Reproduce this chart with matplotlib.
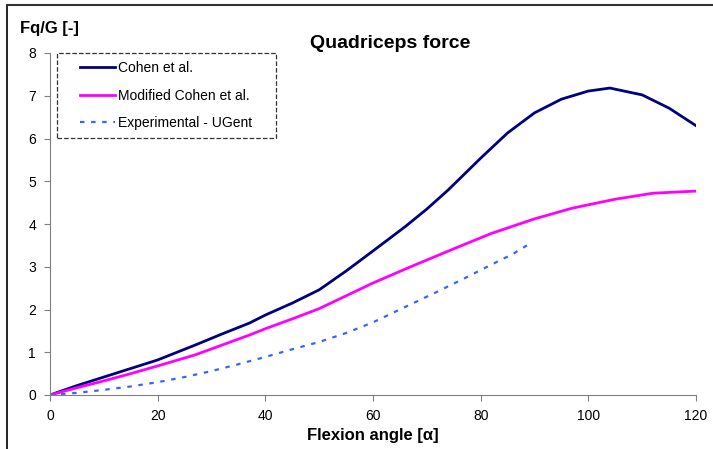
import numpy as np
import matplotlib
matplotlib.use("Agg")
import matplotlib.pyplot as plt
from matplotlib.lines import Line2D
from matplotlib.legend_handler import HandlerLine2D

plt.rcParams["font.family"] = ["Liberation Sans", "DejaVu Sans"]

# Cohen et al.
cohen_x = [0, 5, 10, 15, 20, 27, 32, 37, 40, 45, 50, 55, 60, 66, 70, 74, 80, 85, 90, 95, 100, 104, 110, 115, 120]
cohen_y = [0, 0.22, 0.42, 0.62, 0.82, 1.17, 1.43, 1.68, 1.87, 2.15, 2.46, 2.9, 3.37, 3.94, 4.35, 4.8, 5.54, 6.13, 6.6, 6.92, 7.11, 7.18, 7.02, 6.71, 6.3]

# Modified Cohen et al.
mod_x = [0, 5, 10, 15, 20, 27, 32, 37, 40, 45, 50, 55, 60, 67, 75, 82, 90, 97, 105, 112, 120]
mod_y = [0, 0.17, 0.33, 0.5, 0.68, 0.94, 1.17, 1.4, 1.55, 1.78, 2.02, 2.32, 2.62, 3.0, 3.42, 3.78, 4.12, 4.37, 4.58, 4.72, 4.77]

# Experimental - UGent
exp_x = [0, 5, 10, 15, 20, 25, 30, 35, 40, 45, 50, 55, 60, 67, 72, 77, 82, 86, 89]
exp_y = [0, 0.05, 0.12, 0.2, 0.3, 0.42, 0.56, 0.72, 0.89, 1.07, 1.24, 1.45, 1.7, 2.12, 2.42, 2.73, 3.05, 3.3, 3.53]

xticks = [0, 20, 40, 60, 80, 100, 120]
yticks = [0, 1, 2, 3, 4, 5, 6, 7, 8]


class IndentHandler(HandlerLine2D):
    # legend line drawn only on the right part of the handle box (indented entries)
    def create_artists(self, legend, orig_handle, xdescent, ydescent, width, height, fontsize, trans):
        arts = super().create_artists(legend, orig_handle, xdescent, ydescent, width, height, fontsize, trans)
        for a in arts:
            xd = np.asarray(a.get_xdata(), dtype=float)
            if xd.size > 1:
                a.set_xdata(np.linspace(-xdescent + 0.3 * width, width - xdescent, xd.size))
        return arts


fig = plt.figure(figsize=(7.13, 4.49), dpi=100)
ax = fig.add_axes([50 / 713, 1 - 395 / 449, 646 / 713, 342 / 449])

ax.plot(cohen_x, cohen_y, color="#000080", lw=2.0, label="Cohen et al.")
ax.plot(mod_x, mod_y, color="#ff00ff", lw=2.0, label="Modified Cohen et al.")
ax.plot(exp_x, exp_y, color="#3366ff", lw=1.6, dashes=(2, 3), label="Experimental - UGent")

ax.set_xlim(0, 120)
ax.set_ylim(0, 8)
ax.set_xticks(xticks)
ax.set_yticks(yticks)
ax.tick_params(labelsize=10, length=4, color="#808080", pad=6)

for s in ["top", "right"]:
    ax.spines[s].set_visible(False)
for s in ["left", "bottom"]:
    ax.spines[s].set_color("#808080")

ax.set_xlabel("Flexion angle [α]", fontsize=12, fontweight="bold", labelpad=4)
fig.text(20 / 713, 1 - 28 / 449, "Fq/G [-]", fontsize=12, fontweight="bold", va="center")
fig.text(390 / 713, 1 - 43 / 449, "Quadriceps force", fontsize=14, fontweight="bold",
         ha="center", va="center")

leg = ax.legend(loc="upper left", bbox_to_anchor=(7 / 646, 0, 219 / 646, 1.0), mode="expand",
                fontsize=10, frameon=True, fancybox=False, handlelength=3.6,
                handletextpad=0.2, labelspacing=0.95, borderaxespad=0, borderpad=0.6,
                handler_map={Line2D: IndentHandler()})
frame = leg.get_frame()
frame.set_edgecolor("black")
frame.set_linestyle("--")
frame.set_linewidth(0.9)

# outer chart frame (cut off on the right and bottom)
fig.add_artist(Line2D([7 / 713, 7 / 713], [0, 1 - 5 / 449], color="black", lw=1.2))
fig.add_artist(Line2D([7 / 713, 1], [1 - 5 / 449, 1 - 5 / 449], color="#333333", lw=1.5))

fig.savefig("out.png", dpi=100)
